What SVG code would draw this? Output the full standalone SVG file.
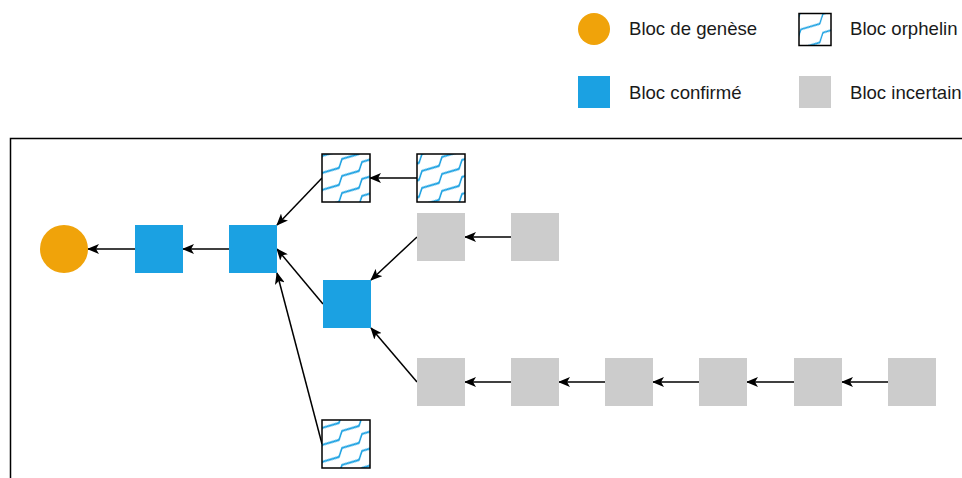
<svg xmlns="http://www.w3.org/2000/svg" width="962" height="478" viewBox="0 0 962 478">
<style>
.lbl{font-family:"Liberation Sans",Arial,Helvetica,sans-serif;font-size:18.6px;fill:#1a1a1a}
.conf{fill:#1ba1e2}
.unc{fill:#cccccc}
.orph{fill:url(#zig);stroke:#000;stroke-width:1.5}
.edge{stroke:#000;stroke-width:1.5;fill:none;marker-end:url(#arr)}
.zz{fill:none;stroke:#1ba1e2;stroke-width:2;stroke-linejoin:miter}
</style>
<defs>
<pattern id="zig" patternUnits="userSpaceOnUse" width="20" height="17" patternTransform="translate(2,3) skewY(-35)">
<rect x="-1" y="-1" width="22" height="19" fill="#fff"/>
<path class="zz" d="M-20,3 L-3,9.9 L0,3 L17,9.9 L20,3 L37,9.9 L40,3"/>
</pattern>
<pattern id="zigL" patternUnits="userSpaceOnUse" width="20" height="17" patternTransform="translate(801,26) skewY(-35) scale(1.1)">
<rect x="-1" y="-1" width="22" height="19" fill="#fff"/>
<path d="M-20,3 L-3,9.9 L0,3 L17,9.9 L20,3 L37,9.9 L40,3" fill="none" stroke="#1ba1e2" stroke-width="1.6"/>
</pattern>
<marker id="arr" viewBox="0 0 12 10" refX="11" refY="5" markerWidth="12" markerHeight="10" markerUnits="userSpaceOnUse" orient="auto">
<path d="M0,0 L12,5 L0,10 L3,5 Z" fill="#000"/>
</marker>
</defs>
<rect x="10.5" y="138.5" width="1000" height="400" fill="none" stroke="#000" stroke-width="1.5"/>
<g id="legend">
<g id="leg-genesis"><circle cx="594" cy="29" r="16" fill="#f0a30a"/><text class="lbl" x="629" y="34.5">Bloc de genèse</text></g>
<g id="leg-orphan"><rect x="799" y="13.5" width="32" height="32" fill="url(#zigL)" stroke="#000" stroke-width="1.5"/><text class="lbl" x="850" y="34.5">Bloc orphelin</text></g>
<g id="leg-confirmed"><rect class="conf" x="578" y="76" width="32" height="32"/><text class="lbl" x="629" y="98.5">Bloc confirmé</text></g>
<g id="leg-uncertain"><rect class="unc" x="799" y="76" width="32" height="32"/><text class="lbl" x="850" y="98.5">Bloc incertain</text></g>
</g>
<g id="connectors">
<line class="edge" x1="135" y1="249" x2="88" y2="249"/>
<line class="edge" x1="229" y1="249" x2="183" y2="249"/>
<line class="edge" x1="322" y1="178" x2="277" y2="225"/>
<line class="edge" x1="417" y1="178" x2="370" y2="178"/>
<line class="edge" x1="323" y1="304" x2="277" y2="249"/>
<line class="edge" x1="322" y1="444" x2="277" y2="273"/>
<line class="edge" x1="417" y1="237" x2="371" y2="280"/>
<line class="edge" x1="511" y1="237" x2="465" y2="237"/>
<line class="edge" x1="417" y1="382" x2="371" y2="328"/>
<line class="edge" x1="511" y1="382" x2="465" y2="382"/>
<line class="edge" x1="605" y1="382" x2="559" y2="382"/>
<line class="edge" x1="699" y1="382" x2="653" y2="382"/>
<line class="edge" x1="794" y1="382" x2="747" y2="382"/>
<line class="edge" x1="888" y1="382" x2="842" y2="382"/>
</g>
<g id="genesis"><circle cx="64" cy="249" r="24" fill="#f0a30a"/></g>
<g id="c1"><rect class="conf" x="135" y="225" width="48" height="48"/></g>
<g id="c2"><rect class="conf" x="229" y="225" width="48" height="48"/></g>
<g id="c3"><rect class="conf" x="323" y="280" width="48" height="48"/></g>
<g id="o1"><rect class="orph" x="322" y="154" width="48" height="48"/></g>
<g id="o2"><rect class="orph" x="417" y="154" width="48" height="48"/></g>
<g id="o3"><rect class="orph" x="322" y="420" width="48" height="48"/></g>
<g id="u1"><rect class="unc" x="417" y="213" width="48" height="48"/></g>
<g id="u2"><rect class="unc" x="511" y="213" width="48" height="48"/></g>
<g id="u3"><rect class="unc" x="417" y="358" width="48" height="48"/></g>
<g id="u4"><rect class="unc" x="511" y="358" width="48" height="48"/></g>
<g id="u5"><rect class="unc" x="605" y="358" width="48" height="48"/></g>
<g id="u6"><rect class="unc" x="699" y="358" width="48" height="48"/></g>
<g id="u7"><rect class="unc" x="794" y="358" width="48" height="48"/></g>
<g id="u8"><rect class="unc" x="888" y="358" width="48" height="48"/></g>
</svg>
